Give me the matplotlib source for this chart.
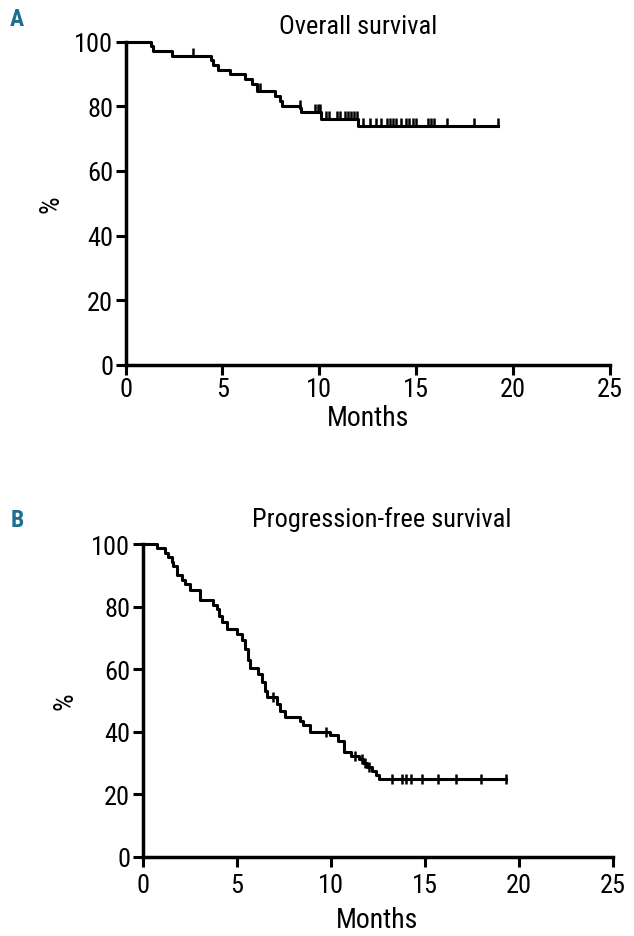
import numpy as np
import matplotlib
matplotlib.use("Agg")
import matplotlib.pyplot as plt

plt.rcParams['font.family'] = ['Roboto Condensed', 'Archivo Narrow', 'Roboto', 'DejaVu Sans']

# Overall survival: step times (months) and survival (%) after each drop
os_times = [0, 1.30, 1.43, 2.38, 4.39, 4.53, 4.79, 5.39, 6.16, 6.55, 6.76,
            7.71, 7.96, 8.05, 8.99, 9.08, 10.1, 12.0]
os_surv = [100, 98.6, 97.2, 95.7, 94.3, 92.9, 91.4, 90.0, 88.6, 87.0, 84.8,
           83.3, 81.7, 80.2, 79.5, 78.1, 76.1, 74.0]
os_end = 19.2
os_censor = [3.5, 6.95, 9.0, 9.8, 9.95, 10.05, 10.35, 10.5, 10.9, 11.05, 11.35,
             11.5, 11.65, 11.8, 11.95, 12.25, 12.6, 12.95, 13.2, 13.5, 13.65,
             13.8, 13.95, 14.2, 14.5, 14.65, 14.85, 15.0, 15.6, 15.75, 15.9,
             16.6, 18.0, 19.2]

# Progression-free survival
pfs_times = [0, 0.75, 1.20, 1.37, 1.55, 1.64, 1.82, 2.09, 2.26, 2.53, 3.06,
             3.77, 3.95, 4.09, 4.21, 4.48, 5.01, 5.28, 5.45, 5.63, 5.72, 6.16,
             6.34, 6.52, 6.61, 7.14, 7.31, 7.58, 8.38, 8.55, 8.91, 9.97, 10.4,
             10.7, 11.1, 11.5, 11.75, 11.95, 12.2, 12.4, 12.6]
pfs_surv = [100, 98.6, 97.2, 95.7, 94.3, 92.9, 90.0, 88.6, 87.1, 85.3, 82.0,
            80.6, 79.2, 77.1, 75.0, 72.8, 71.3, 69.2, 66.4, 62.8, 60.2, 58.4,
            55.7, 53.1, 51.0, 48.8, 46.7, 44.7, 43.4, 42.1, 40.0, 38.8, 37.1,
            33.4, 32.3, 31.2, 30.0, 28.8, 27.5, 26.2, 24.9]
pfs_end = 19.35
pfs_censor = [6.96, 9.75, 11.3, 11.65, 11.85, 12.05, 13.25, 13.8, 14.0, 14.3,
              14.85, 15.7, 16.7, 18.0, 19.35]

xticks = [0, 5, 10, 15, 20, 25]
yticks = [0, 20, 40, 60, 80, 100]
label_color = '#1d6f8f'

up_tick = [(0, 0), (0, 1)]


def level_at(times, surv, t):
    idx = np.searchsorted(times, t, side='right') - 1
    return np.asarray(surv)[idx]


def draw_panel(ax, times, surv, end, censor, lab_x, tick_pad, xlab_pad, mark, msize):
    t = list(times) + [end]
    s = list(surv) + [surv[-1]]
    ax.step(t, s, where='post', color='black', lw=2.2, clip_on=False)
    ax.plot(censor, level_at(times, surv, censor), ls='none', marker=mark,
            ms=msize, mew=1.8, color='black', clip_on=False)
    ax.set_xlim(0, 25)
    ax.set_ylim(0, 100)
    ax.set_xticks(xticks)
    ax.set_yticks(yticks)
    for side in ['top', 'right']:
        ax.spines[side].set_visible(False)
    for side in ['left', 'bottom']:
        ax.spines[side].set_linewidth(2.5)
    ax.tick_params(direction='out', length=7, width=2.2, labelsize=19, pad=2)
    ax.tick_params(axis='x', pad=tick_pad)
    ax.set_xlabel('Months', fontsize=20, labelpad=xlab_pad)
    ax.set_ylabel('%', fontsize=20)
    ax.yaxis.set_label_coords(lab_x, 0.5)


fig = plt.figure(figsize=(6.34, 9.37), dpi=100)
axA = fig.add_axes([0.198, 0.6097, 0.764, 0.3447])
axB = fig.add_axes([0.2248, 0.0848, 0.7413, 0.3335])

draw_panel(axA, os_times, os_surv, os_end, os_censor, -0.125, 2, 2, up_tick, 11)
draw_panel(axB, pfs_times, pfs_surv, pfs_end, pfs_censor, -0.137, 5, 6, '|', 7)

fig.text(0.565, 0.971, 'Overall survival', fontsize=19, ha='center', va='center')
fig.text(0.6025, 0.446, 'Progression-free survival', fontsize=19, ha='center', va='center')
fig.text(0.016, 0.979, 'A', fontsize=17, fontweight='bold', color=label_color, va='center')
fig.text(0.016, 0.445, 'B', fontsize=17, fontweight='bold', color=label_color, va='center')

fig.savefig('out.png', dpi=100)
